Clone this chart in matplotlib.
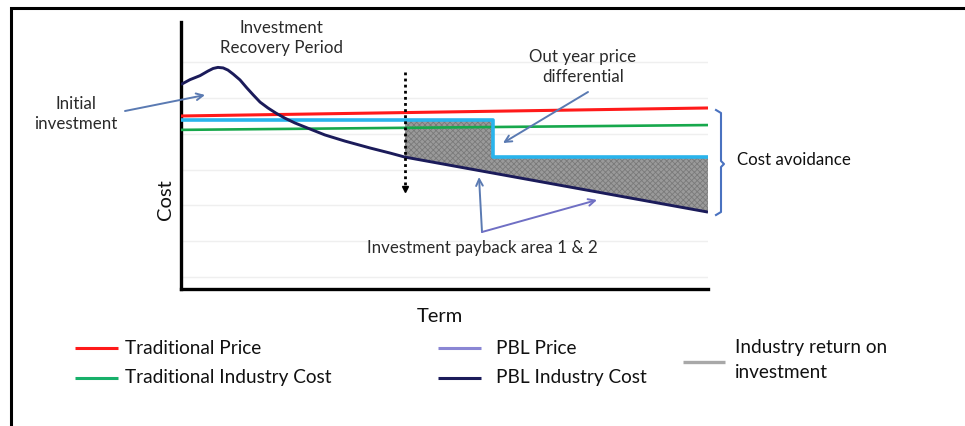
import numpy as np
import matplotlib
matplotlib.use("Agg")
import matplotlib.pyplot as plt

plt.rcParams['font.family'] = ['Lato', 'DejaVu Sans']

# ---- data (term units 0..10, cost units 0..10) ----
navy_x = [0.0, 0.17, 0.36, 0.51, 0.61, 0.70, 0.80, 0.89, 0.99, 1.12, 1.25, 1.37, 1.50,
          1.65, 1.80, 1.97, 2.16, 2.45, 2.73, 3.11, 3.59, 3.97, 4.25, 10.0]
navy_y = [7.66, 7.84, 7.99, 8.16, 8.26, 8.30, 8.28, 8.20, 8.05, 7.83, 7.53, 7.27, 7.00,
          6.78, 6.59, 6.40, 6.22, 5.99, 5.77, 5.54, 5.28, 5.09, 4.94, 2.88]
red_x = [0.0, 10.0]
red_y = [6.48, 6.78]
green_x = [0.0, 10.0]
green_y = [5.96, 6.14]
cyan_x = [0.0, 5.92, 5.92, 10.0]
cyan_y = [6.33, 6.33, 4.94, 4.94]
payback_start = 4.25
grid_levels = [0.45, 1.80, 3.15, 4.46, 5.81, 7.15, 8.50]

legend_labels = ["Traditional Price", "Traditional Industry Cost", "PBL Price",
                 "PBL Industry Cost", "Industry return on\ninvestment"]

W, H = 965, 426
fig = plt.figure(figsize=(W / 100, H / 100), dpi=100)
fig.patch.set_facecolor('white')

def rect(l, t, r, b):
    return [l / W, 1 - b / H, (r - l) / W, (b - t) / H]

ax = fig.add_axes(rect(181, 22, 708, 289))
ax.set_xlim(0, 10)
ax.set_ylim(0, 10)
for s in ['top', 'right']:
    ax.spines[s].set_visible(False)
for s in ['left', 'bottom']:
    ax.spines[s].set_linewidth(2.4)
    ax.spines[s].set_color('black')
ax.set_xticks([])
ax.set_yticks(grid_levels)
ax.set_yticklabels([])
ax.tick_params(length=0)
ax.grid(axis='y', color='#efefef', lw=1.0)
ax.set_axisbelow(True)

# payback fill
fx = [payback_start, cyan_x[1], cyan_x[2], cyan_x[3]]
upper = [cyan_y[0], cyan_y[1], cyan_y[2], cyan_y[3]]
lower = np.interp(fx, navy_x, navy_y)
plt.rcParams['hatch.color'] = '#6e6e6e'
plt.rcParams['hatch.linewidth'] = 0.6
ax.fill_between(fx, lower, upper, facecolor='#9a9a9a', hatch='xxxxxx', edgecolor='#7a7a7a', lw=0, zorder=2)

ax.plot(red_x, red_y, color='#ff1a1a', lw=2.2, zorder=3, solid_capstyle='butt')
ax.plot(green_x, green_y, color='#17a84c', lw=1.9, zorder=3, solid_capstyle='butt')
ax.plot(cyan_x, cyan_y, color='#29b4ec', lw=2.6, zorder=3, solid_capstyle='butt')
ax.plot(navy_x, navy_y, color='#1b1b5a', lw=2.1, zorder=4, solid_capstyle='butt', solid_joinstyle='round')

# dotted vertical marker
ax.plot([payback_start, payback_start], [8.13, 3.85], color='black', lw=2.0, ls=(0, (1, 1.2)), zorder=5)
ax.plot([payback_start], [3.75], marker='v', color='black', ms=5, zorder=5)

# ---- overlay in pixel coords ----
ov = fig.add_axes([0, 0, 1, 1])
ov.set_xlim(0, W)
ov.set_ylim(H, 0)
ov.axis('off')
ov.patch.set_alpha(0)

# frame (left + top)
ov.plot([10.5, 10.5, W], [H, 7.5, 7.5], color='black', lw=2.2, solid_joinstyle='miter')

tc = '#2a2a2a'
fs = 12.2
ov.text(281, 38, "Investment\nRecovery Period", ha='center', va='center', fontsize=fs, color=tc, linespacing=1.3)
ov.text(76, 114, "Initial\ninvestment", ha='center', va='center', fontsize=fs, color=tc, linespacing=1.3)
ov.text(583, 67, "Out year price\ndifferential", ha='center', va='center', fontsize=fs, color=tc, linespacing=1.3)
ov.text(737, 160, "Cost avoidance", ha='left', va='center', fontsize=fs, color='#111111')
ov.text(482, 248, "Investment payback area 1 & 2", ha='center', va='center', fontsize=fs, color=tc)
ov.text(440, 317, "Term", ha='center', va='center', fontsize=14.5, color='#111111')
ov.text(165, 200, "Cost", ha='center', va='center', fontsize=14.5, color='#111111', rotation=90)

ac = '#5a7ab2'
arr = dict(arrowstyle='->', color=ac, lw=1.4, shrinkA=0, shrinkB=0, mutation_scale=12)
ov.annotate('', xy=(205, 95), xytext=(125, 111), arrowprops=arr)
ov.annotate('', xy=(503, 143), xytext=(588, 92), arrowprops=arr)
ov.annotate('', xy=(479, 177), xytext=(482, 232), arrowprops=arr)
arr2 = dict(arr, color='#6f6fc4')
ov.annotate('', xy=(597, 200), xytext=(482, 232), arrowprops=arr2)

# bracket
ov.plot([716, 721, 721, 724, 721, 721, 716], [110, 113, 161, 164, 167, 212, 215], color='#4a72c0', lw=1.5)

# legend
lfs = 13.7
items = [
    (75, 118, 348, '#ff1a1a', 125, legend_labels[0]),
    (75, 118, 378, '#17b06a', 125, legend_labels[1]),
    (438, 481, 348, '#8a86d4', 496, legend_labels[2]),
    (438, 481, 378, '#1b1b5a', 496, legend_labels[3]),
]
for x0, x1, y, c, tx, lab in items:
    ov.plot([x0, x1], [y, y], color=c, lw=2.2, solid_capstyle='butt')
    ov.text(tx, y, lab, ha='left', va='center', fontsize=lfs, color='#111111')
ov.plot([683, 725], [362, 362], color='#a8a8a8', lw=2.4, solid_capstyle='butt')
ov.text(735, 360, legend_labels[4], ha='left', va='center', fontsize=lfs, color='#111111', linespacing=1.55)

fig.savefig('out.png', dpi=100, facecolor='white')
